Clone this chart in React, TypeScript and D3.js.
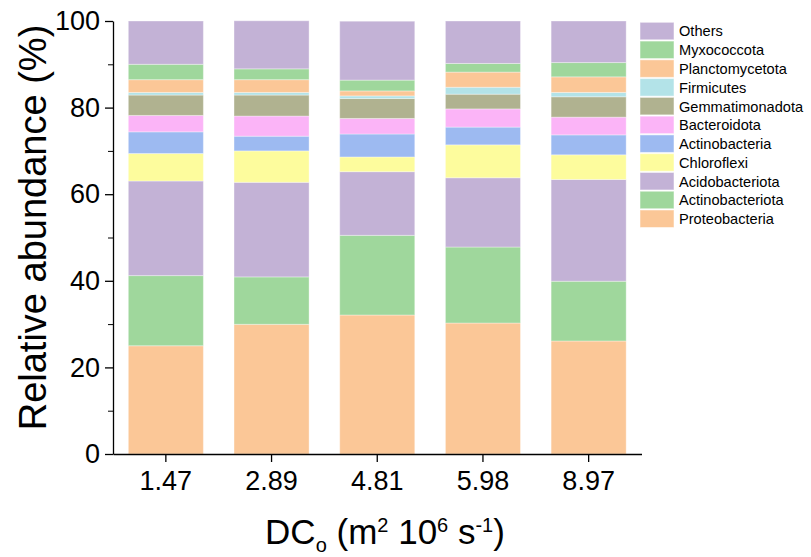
import React, { useEffect, useRef } from "react";
import * as d3 from "d3";

// DC_o values on the x axis
const samples = ["1.47", "2.89", "4.81", "5.98", "8.97"];

// relative abundance (%) per phylum, bottom to top of the stack
const proteobacteria = [25.0, 29.95, 32.1, 30.25, 26.1];
const actinobacteriota = [16.2, 10.95, 18.4, 17.55, 13.8];
const acidobacteriota = [21.85, 21.85, 14.7, 16.0, 23.5];
const chloroflexi = [6.35, 7.25, 3.4, 7.6, 5.7];
const actinobacteria = [5.0, 3.4, 5.3, 4.1, 4.6];
const bacteroidota = [3.8, 4.65, 3.6, 4.2, 4.1];
const gemmatimonadota = [4.7, 4.85, 4.6, 3.4, 4.7];
const firmicutes = [0.6, 0.6, 0.6, 1.6, 1.0];
const planctomycetota = [2.95, 2.95, 1.15, 3.5, 3.6];
const myxococcota = [3.55, 2.5, 2.5, 2.0, 3.3];
const others = [10.0, 11.1, 13.6, 9.8, 9.6];

const seriesNames = [
  "Proteobacteria",
  "Actinobacteriota",
  "Acidobacteriota",
  "Chloroflexi",
  "Actinobacteria",
  "Bacteroidota",
  "Gemmatimonadota",
  "Firmicutes",
  "Planctomycetota",
  "Myxococcota",
  "Others",
];
const seriesValues = [
  proteobacteria,
  actinobacteriota,
  acidobacteriota,
  chloroflexi,
  actinobacteria,
  bacteroidota,
  gemmatimonadota,
  firmicutes,
  planctomycetota,
  myxococcota,
  others,
];
const seriesColors = [
  "#fbc797",
  "#9fd79c",
  "#c3b2d6",
  "#fdfc9d",
  "#9dbaf1",
  "#fbb4f7",
  "#b0b290",
  "#b3e3e8",
  "#fbc797",
  "#9fd79c",
  "#c3b2d6",
];

const yTicks = [0, 20, 40, 60, 80, 100];
const yMinorTicks = [10, 30, 50, 70, 90];

const App = () => {
  const svgRef = useRef<SVGSVGElement>(null);

  useEffect(() => {
    const width = 811;
    const height = 557;
    const margin = { top: 21, left: 113, bottom: 103 };
    const plotRight = 641.5;
    const font = "'Liberation Sans', Arial, sans-serif";

    const svg = d3.select(svgRef.current);
    svg.selectAll("*").remove();
    svg.attr("width", width).attr("height", height).style("font-family", font);

    const table = samples.map((s, i) => {
      const row: any = { sample: s };
      seriesNames.forEach((n, k) => (row[n] = seriesValues[k][i]));
      return row;
    });

    const stacked = d3.stack().keys(seriesNames)(table);

    const x = d3
      .scaleBand()
      .domain(samples)
      .range([margin.left, plotRight])
      .paddingInner(0.29)
      .paddingOuter(0.145);

    const y = d3
      .scaleLinear()
      .domain([0, 100])
      .range([height - margin.bottom, margin.top]);

    const color = d3.scaleOrdinal<string>().domain(seriesNames).range(seriesColors);

    // Stacked bars
    svg
      .append("g")
      .selectAll("g")
      .data(stacked)
      .join("g")
      .attr("fill", d => color(d.key))
      .selectAll("rect")
      .data(d => d)
      .join("rect")
      .attr("x", (d: any) => x(d.data.sample)!)
      .attr("width", x.bandwidth())
      .attr("y", d => y(d[1]))
      .attr("height", d => y(d[0]) - y(d[1]))
      .attr("stroke", "#ffffff")
      .attr("stroke-opacity", 0.35)
      .attr("stroke-width", 1);

    // Axes
    const yAxis = svg
      .append("g")
      .attr("transform", `translate(${margin.left},0)`)
      .call(d3.axisLeft(y).tickValues(yTicks).tickSize(8).tickPadding(5).tickSizeOuter(0));
    yAxis.selectAll("text").style("font-size", "27px").style("font-family", font).attr("fill", "#000");
    yAxis.select(".domain").attr("stroke-width", 1.3);

    svg
      .append("g")
      .attr("transform", `translate(${margin.left},0)`)
      .call(d3.axisLeft(y).tickValues(yMinorTicks).tickSize(5).tickFormat(() => "").tickSizeOuter(0))
      .call(g => g.select(".domain").remove());

    const xAxis = svg
      .append("g")
      .attr("transform", `translate(0,${height - margin.bottom})`)
      .call(d3.axisBottom(x).tickSize(8).tickPadding(9).tickSizeOuter(0));
    xAxis.selectAll("text").style("font-size", "27px").style("font-family", font).attr("fill", "#000");
    xAxis.select(".domain").attr("stroke-width", 1.3);
    xAxis.selectAll(".tick line").attr("stroke-width", 1.3);
    yAxis.selectAll(".tick line").attr("stroke-width", 1.3);

    // Axis titles
    svg
      .append("text")
      .attr("transform", `translate(46,227.5) rotate(-90)`)
      .attr("text-anchor", "middle")
      .style("font-size", "38px")
      .text("Relative abundance (%)");

    const title = svg
      .append("text")
      .attr("x", 385)
      .attr("y", 544)
      .attr("text-anchor", "middle")
      .style("font-size", "35px");
    title.append("tspan").text("DC");
    title.append("tspan").attr("font-size", "20px").attr("dy", 8).text("o");
    title.append("tspan").attr("dy", -8).text(" (m");
    title.append("tspan").attr("font-size", "20px").attr("dy", -12).text("2");
    title.append("tspan").attr("dy", 12).text(" 10");
    title.append("tspan").attr("font-size", "20px").attr("dy", -12).text("6");
    title.append("tspan").attr("dy", 12).text(" s");
    title.append("tspan").attr("font-size", "20px").attr("dy", -12).text("-1");
    title.append("tspan").attr("dy", 12).text(")");

    // Legend (top of stack first)
    const legend = svg.append("g").attr("transform", "translate(640,22.3)");
    [...seriesNames].reverse().forEach((name, i) => {
      const row = legend.append("g").attr("transform", `translate(0,${i * 18.77})`);
      row
        .append("rect")
        .attr("width", 34)
        .attr("height", 17.5)
        .attr("fill", color(name))
        .attr("stroke", "#ffffff")
        .attr("stroke-opacity", 0.5);
      row
        .append("text")
        .attr("x", 39)
        .attr("y", 14.2)
        .style("font-size", "14.6px")
        .text(name);
    });
  }, []);

  return (
    <div style={{ position: "absolute", left: 0, top: 0 }}>
      <svg ref={svgRef}></svg>
    </div>
  );
};

export default App;
